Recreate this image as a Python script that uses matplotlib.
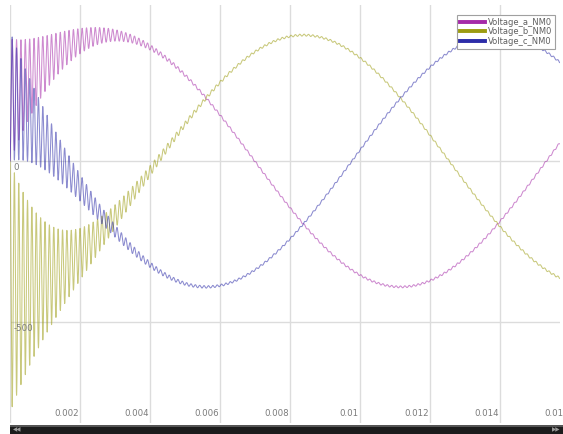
import numpy as np
import matplotlib
matplotlib.use("Agg")
import matplotlib.pyplot as plt
from matplotlib.patches import Rectangle

# ---- data ----
series_names = ["Voltage_a_NM0", "Voltage_b_NM0", "Voltage_c_NM0"]
series_colors = ["#a52aa8", "#9c9c10", "#2c2ca8"]
amplitude = 391.0            # steady-state peak (V)
fundamental_hz = 60.0
phase_deg = [-61.0, -181.0, 59.0]   # phases a, b, c
ripple_hz = 8000.0           # start-up oscillation frequency
ripple_decay = 790.0         # 1/s
ripple_floor = 3.0           # persistent small ripple (V)
t_end = 0.0157
n_samples = 40000
x_ticks = [0.002, 0.004, 0.006, 0.008, 0.010, 0.012, 0.014, 0.016]
x_tick_labels = ["0.002", "0.004", "0.006", "0.008", "0.01", "0.012", "0.014", "0.016"]
y_ticks = [0, -500]
y_tick_labels = ["0", "-500"]

t = np.linspace(0.0, t_end, n_samples)
w = 2 * np.pi * fundamental_hz
wr = 2 * np.pi * ripple_hz
signals = []
for ph in phase_deg:
    p = np.deg2rad(ph)
    steady = amplitude * np.cos(w * t + p)
    trans = -amplitude * np.cos(p) * np.cos(wr * t) * np.exp(-ripple_decay * t)
    floor = ripple_floor * np.sin(wr * t)
    signals.append(steady + trans + floor)

# ---- figure ----
W, H = 563, 434
fig = plt.figure(figsize=(W / 100, H / 100), dpi=100)
ax_l, ax_r, ax_t, ax_b = 10, 560, 5, 423
ax = fig.add_axes([ax_l / W, (H - ax_b) / H, (ax_r - ax_l) / W, (ax_b - ax_t) / H])

for sig, name, col in zip(signals, series_names, series_colors):
    ax.plot(t, sig, color=col, lw=0.75, alpha=0.55, label=name)

ax.set_xticks([0.0] + x_ticks)
ax.set_yticks([500] + y_ticks)
ax.set_xlim(0, 0.015714)
ax.set_ylim(-813.7, 484.5)
ax.grid(True, color="#dcdcdc", lw=1.0)
ax.tick_params(length=0, labelbottom=False, labelleft=False)
for s in ax.spines.values():
    s.set_visible(False)
ax.set_axisbelow(True)

xtr = ax.get_xaxis_transform()
for xv, lab in zip(x_ticks, x_tick_labels):
    ax.text(xv - 0.00004, 0.012, lab, transform=xtr, ha="right", va="bottom",
            fontsize=6.2, color="#7a7a7a", clip_on=False)
ytr = ax.get_yaxis_transform()
for yv, lab in zip(y_ticks, y_tick_labels):
    ax.text(0.006, yv - 5, lab, transform=ytr, ha="left", va="top",
            fontsize=6.2, color="#7a7a7a")

leg = ax.legend(loc="upper right", bbox_to_anchor=(0.991, 0.976), borderaxespad=0,
                fontsize=6, handlelength=3.0, handletextpad=0.3, labelspacing=0.05,
                borderpad=0.35, fancybox=False, framealpha=1, edgecolor="#a0a0a0")
for line in leg.get_lines():
    line.set_linewidth(2.8)
    line.set_alpha(1.0)
for txt in leg.get_texts():
    txt.set_color("#606060")
leg.get_frame().set_linewidth(0.8)

# scrollbar at the bottom
fig.patches.append(Rectangle((10 / W, 0), (W - 10) / W, 9 / H, transform=fig.transFigure,
                             facecolor="#1c1c1c", edgecolor="none"))
fig.patches.append(Rectangle((10 / W, 7.5 / H), (W - 10) / W, 1.2 / H, transform=fig.transFigure,
                             facecolor="#555555", edgecolor="none"))
fig.text(13 / W, 4.5 / H, "◀◀", fontsize=4, color="#9a9a9a", va="center", ha="left")
fig.text(560 / W, 4.5 / H, "▶▶", fontsize=4, color="#9a9a9a", va="center", ha="right")

fig.savefig("out.png", dpi=100)
